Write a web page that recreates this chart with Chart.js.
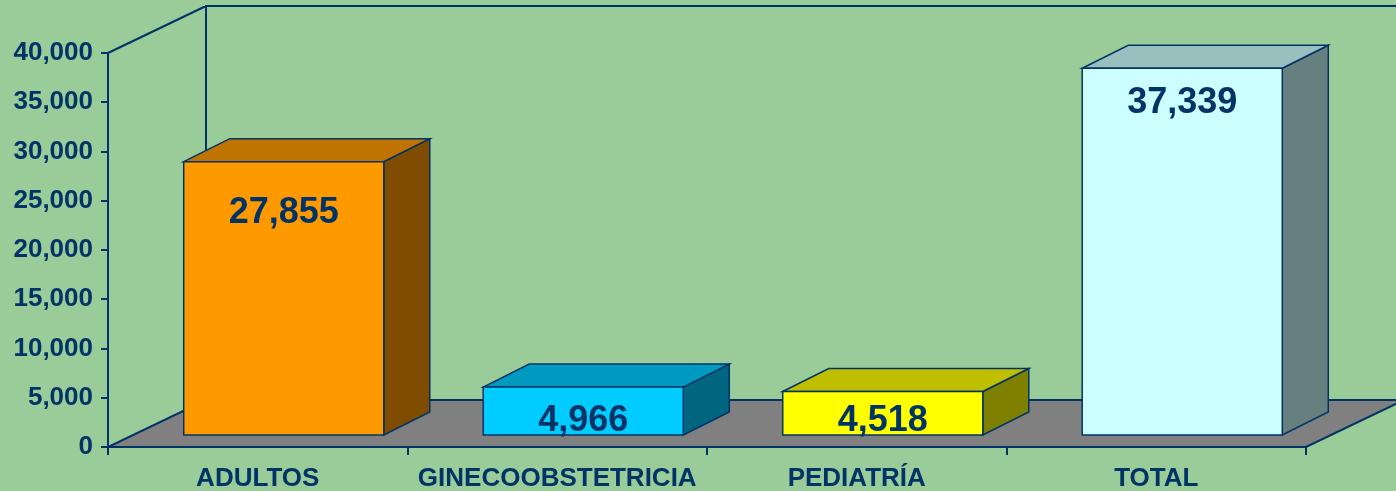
<!DOCTYPE html>
<html>
<head>
<meta charset="utf-8">
<script src="https://cdn.jsdelivr.net/npm/chart.js@4/dist/chart.umd.min.js"></script>
<style>
  html, body { margin: 0; padding: 0; background: #99CC99; }
  canvas { display: block; }
</style>
</head>
<body>
<canvas id="chart" width="1396" height="491"></canvas>
<script>
/////////////////////////////// DATA ///////////////////////////////
const categories = ["ADULTOS", "GINECOOBSTETRICIA", "PEDIATRÍA", "TOTAL"];
const values = [27855, 4966, 4518, 37339];
const yMax = 40000;
const yStep = 5000;

/////////////////////////////// COLORS ///////////////////////////////
const navy = "#003366";
const c_front = ["#FF9900", "#00CCFF", "#FFFF00", "#CCFFFF"];
const c_top = ["#BF7300", "#0099BF", "#BFBF00", "#99BFBF"];
const c_side = ["#7F4C00", "#00667F", "#7F7F00", "#667F7F"];
const fontFamily = "'Liberation Sans', Arial, sans-serif";

// Draws the 3D walls, floor and the bar boxes on top of the chart scales
const box3d = {
    id: "box3d",
    beforeDatasetsDraw(chart, args, opts) {
        const { ctx, chartArea: a } = chart;
        const dx = opts.wallDx, dy = opts.wallDy;
        ctx.save();
        ctx.strokeStyle = navy;
        ctx.lineWidth = 2;
        ctx.lineJoin = "miter";

        // floor
        ctx.fillStyle = "#808080";
        ctx.beginPath();
        ctx.moveTo(a.left, a.bottom);
        ctx.lineTo(a.right, a.bottom);
        ctx.lineTo(a.right + dx, a.bottom - dy);
        ctx.lineTo(a.left + dx, a.bottom - dy);
        ctx.closePath();
        ctx.fill();
        ctx.stroke();

        // back wall and side wall edges
        ctx.beginPath();
        ctx.moveTo(a.left + dx, a.bottom - dy);
        ctx.lineTo(a.left + dx, a.top - dy);
        ctx.lineTo(a.right + dx + 50, a.top - dy);
        ctx.moveTo(a.left, a.top);
        ctx.lineTo(a.left + dx, a.top - dy);
        ctx.stroke();
        ctx.restore();
    },
    afterDatasetsDraw(chart, args, opts) {
        const { ctx } = chart;
        const meta = chart.getDatasetMeta(0);
        ctx.save();
        ctx.strokeStyle = navy;
        ctx.lineWidth = 1.5;
        ctx.lineJoin = "miter";
        meta.data.forEach((bar, i) => {
            const p = bar.getProps(["x", "y", "base", "width"], true);
            const fl = p.x - p.width / 2 + opts.frontDx;
            const fr = p.x + p.width / 2 + opts.frontDx;
            const ft = p.y - opts.frontDy;
            const fb = p.base - opts.frontDy;
            const bdx = opts.boxDx, bdy = opts.boxDy;

            // side face
            ctx.fillStyle = c_side[i];
            ctx.beginPath();
            ctx.moveTo(fr, ft);
            ctx.lineTo(fr + bdx, ft - bdy);
            ctx.lineTo(fr + bdx, fb - bdy);
            ctx.lineTo(fr, fb);
            ctx.closePath();
            ctx.fill();
            ctx.stroke();

            // top face
            ctx.fillStyle = c_top[i];
            ctx.beginPath();
            ctx.moveTo(fl, ft);
            ctx.lineTo(fl + bdx, ft - bdy);
            ctx.lineTo(fr + bdx, ft - bdy);
            ctx.lineTo(fr, ft);
            ctx.closePath();
            ctx.fill();
            ctx.stroke();

            // front face
            ctx.fillStyle = c_front[i];
            ctx.beginPath();
            ctx.rect(fl, ft, fr - fl, fb - ft);
            ctx.fill();
            ctx.stroke();

            // value label
            ctx.fillStyle = navy;
            ctx.font = "bold 36px " + fontFamily;
            ctx.textAlign = "center";
            ctx.textBaseline = "middle";
            const ly = Math.min(ft + opts.labelDy + (opts.labelNudge[i] || 0), fb - 14);
            ctx.fillText(values[i].toLocaleString("en-US"), (fl + fr) / 2, ly);
        });
        ctx.restore();
    }
};

/////////////////////////////// CREATE CHART ///////////////////////////////
const ctx = document.getElementById("chart").getContext("2d");
const chart = new Chart(ctx, {
    type: "bar",
    data: {
        labels: categories,
        datasets: [{
            data: values,
            backgroundColor: "rgba(0,0,0,0)",
            borderWidth: 0,
            categoryPercentage: 1,
            barPercentage: 0.668,
        }],
    },
    plugins: [box3d],
    options: {
        responsive: false,
        devicePixelRatio: 1,
        animation: false,
        layout: { padding: { top: 53, right: 90, left: 0, bottom: 0 } },
        plugins: {
            legend: { display: false },
            tooltip: { enabled: false },
            box3d: {
                wallDx: 98, wallDy: 47,
                frontDx: 26, frontDy: 11,
                boxDx: 46, boxDy: 23,
                labelDy: 35,
                labelNudge: [16, 0, 0, 0],
            },
        },
        scales: {
            y: {
                min: 0,
                max: yMax,
                afterFit: (s) => { s.width = 108; },
                border: { display: true, color: navy, width: 2 },
                grid: { display: true, drawOnChartArea: false, drawTicks: true, tickLength: 7, color: navy, lineWidth: 2 },
                ticks: {
                    stepSize: yStep,
                    padding: 8,
                    color: navy,
                    font: { family: fontFamily, size: 26, weight: "bold" },
                    callback: (v) => v.toLocaleString("en-US"),
                },
            },
            x: {
                offset: true,
                afterFit: (s) => { s.height = 44; },
                border: { display: true, color: navy, width: 2 },
                grid: { display: true, offset: true, drawOnChartArea: false, drawTicks: true, tickLength: 8, color: navy, lineWidth: 2 },
                ticks: {
                    padding: 8,
                    color: navy,
                    maxRotation: 0,
                    autoSkip: false,
                    font: { family: fontFamily, size: 26, weight: "bold" },
                },
            },
        },
    },
});
</script>
</body>
</html>
